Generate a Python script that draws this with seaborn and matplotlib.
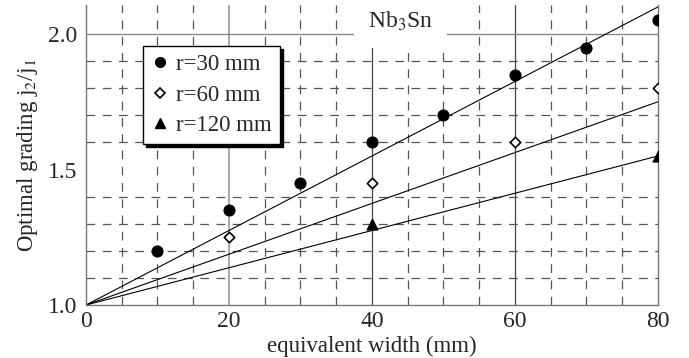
#!/usr/bin/env python3

import matplotlib
matplotlib.use('Agg')
import matplotlib.pyplot as plt     # plotting
import seaborn as sns               # plotting
import pandas as pd                 # data handling

# measured points
w30 = [10, 20, 30, 40, 50, 60, 70, 80]
g30 = [1.20, 1.35, 1.45, 1.60, 1.70, 1.85, 1.95, 2.05]
w60 = [20, 40, 60, 80]
g60 = [1.25, 1.45, 1.60, 1.80]
w120 = [40, 80]
g120 = [1.30, 1.55]

# straight fit lines from (0, 1) to (80, end value)
fit_x = [0, 80]
fit_end = [2.10, 1.75, 1.55]

labels = ['r=30 mm', 'r=60 mm', 'r=120 mm']
markers = ['o', 'D', '^']

sns.set_style('white')
plt.rcParams['font.family'] = ['Liberation Serif', 'DejaVu Serif']
plt.rcParams['mathtext.fontset'] = 'stix'

fig = plt.figure(figsize=(6.89, 3.58), dpi=100)
ax = fig.add_axes([0.1248, 0.148, 0.8302, 0.838])

# grid
for x in range(5, 80, 5):
    if x == 20:
        ax.axvline(x, color='#999999', lw=1.2, zorder=0)
    elif x in (40, 60):
        ax.axvline(x, color='#444444', lw=0.9, zorder=0)
    else:
        ax.axvline(x, color='#555555', lw=0.9, ls=(0, (7, 6)), zorder=0)
for y in [1.1, 1.2, 1.3, 1.4, 1.6, 1.7, 1.8, 1.9]:
    ax.axhline(y, color='#555555', lw=0.9, ls=(0, (7, 6)), zorder=0)
ax.axhline(2.0, color='#888888', lw=1.0, zorder=0)

# fit lines
for end in fit_end:
    df_fit = pd.DataFrame({'w': fit_x, 'g': [1.0, end]})
    sns.lineplot(data=df_fit, x='w', y='g', color='black', lw=0.8, ax=ax, zorder=2)

series = [(w30, g30), (w60, g60), (w120, g120)]
handles = []
for (w, g), lab, m in zip(series, labels, markers):
    df = pd.DataFrame({'w': w, 'g': g})
    if m == 'D':
        sns.scatterplot(data=df, x='w', y='g', marker=m, s=28, facecolor='white',
                        edgecolor='black', linewidth=1.2, ax=ax, zorder=3)
        h = plt.Line2D([], [], ls='', marker=m, ms=5, mfc='white', mec='black', mew=1.2)
    else:
        sns.scatterplot(data=df, x='w', y='g', marker=m, s=65, color='black',
                        edgecolor='black', ax=ax, zorder=3)
        h = plt.Line2D([], [], ls='', marker=m, ms=7, color='black')
    handles.append(h)

leg = ax.legend(handles, labels, loc='upper left', bbox_to_anchor=(0.1, 0.862),
                borderaxespad=0, fontsize=16.5, frameon=True, fancybox=False,
                shadow={'color': 'black', 'alpha': 1}, edgecolor='black',
                handletextpad=0.3, handlelength=0.8, labelspacing=0.4,
                borderpad=0.35, framealpha=1)
leg.get_frame().set_linewidth(1.0)

ax.text(44, 2.045, 'Nb$_3$Sn', fontsize=17, ha='center', va='center', zorder=4,
        bbox=dict(facecolor='white', edgecolor='none', boxstyle='square,pad=0.6'))

ax.set_xlim(0, 80)
ax.set_ylim(1.0, 2.107)
ax.set_xticks([0, 20, 40, 60, 80])
ax.set_yticks([1.0, 1.5, 2.0])
ax.set_yticklabels(['1.0', '1.5', '2.0'])
ax.tick_params(axis='x', labelsize=17, length=0, pad=4)
ax.tick_params(axis='y', labelsize=17, direction='in', length=5, color='#888888', pad=6)
ax.set_xlabel('equivalent width (mm)', fontsize=16.5, labelpad=3)
ax.set_ylabel('Optimal grading j$_2$/j$_1$', fontsize=16.5, labelpad=6)

for side in ['left', 'bottom', 'right']:
    ax.spines[side].set_visible(True)
    ax.spines[side].set_color('#777777')
    ax.spines[side].set_linewidth(1.0)
ax.spines['top'].set_visible(False)

plt.savefig('out.png', dpi=100)
